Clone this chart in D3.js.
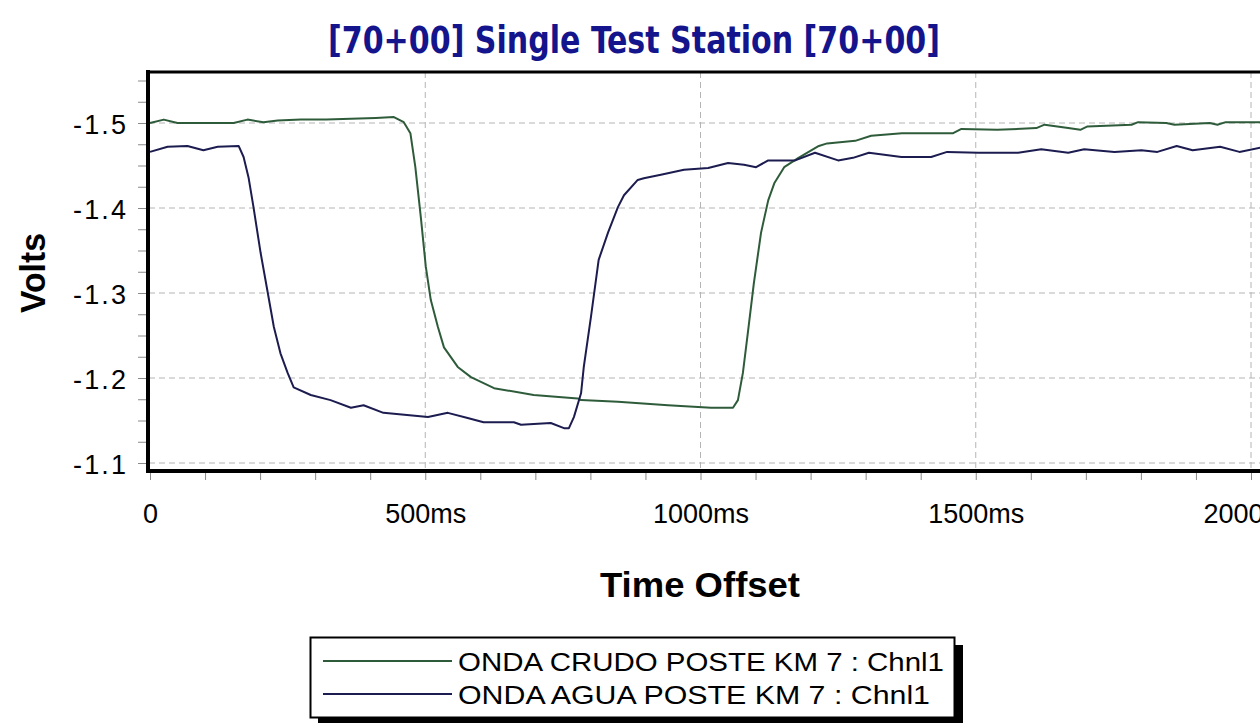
<!DOCTYPE html>
<html>
<head>
<meta charset="utf-8">
<script src="https://cdn.jsdelivr.net/npm/d3@7"></script>
<style>
  html, body { margin: 0; padding: 0; background: #ffffff; overflow: hidden; }
  svg { display: block; font-family: "Liberation Sans", Arial, sans-serif; }
</style>
</head>
<body>
<svg id="chart" width="1260" height="723"></svg>
<script>
// ---------- data ----------
const chartTitle = "[70+00] Single Test Station [70+00]";
const xAxisTitle = "Time Offset";
const yAxisTitle = "Volts";
const seriesNames = ["ONDA CRUDO POSTE KM 7 : Chnl1", "ONDA AGUA POSTE KM 7 : Chnl1"];
const seriesColors = ["#2e5c3a", "#1c1c50"];

const timeCrudo = [0, 25, 50, 100, 152, 177, 206, 232, 274, 320, 365, 410, 443, 461, 473, 482, 492, 501, 510, 523, 534, 559, 583, 625, 697, 777, 783, 850, 941, 1019, 1059, 1068, 1077, 1086, 1097, 1110, 1123, 1134, 1152, 1178, 1215, 1230, 1281, 1310, 1366, 1459, 1474, 1539, 1610, 1625, 1668, 1690, 1703, 1783, 1795, 1846, 1861, 1925, 1939, 1954, 2026];
const voltsCrudo = [-1.500, -1.504, -1.500, -1.500, -1.500, -1.504, -1.501, -1.503, -1.504, -1.504, -1.505, -1.506, -1.507, -1.501, -1.488, -1.448, -1.389, -1.331, -1.292, -1.260, -1.236, -1.213, -1.201, -1.188, -1.180, -1.176, -1.174, -1.172, -1.168, -1.165, -1.165, -1.174, -1.206, -1.253, -1.312, -1.371, -1.409, -1.429, -1.448, -1.459, -1.473, -1.476, -1.479, -1.485, -1.488, -1.488, -1.493, -1.492, -1.494, -1.498, -1.494, -1.492, -1.496, -1.498, -1.501, -1.500, -1.498, -1.500, -1.498, -1.501, -1.501];

const timeAgua = [0, 32, 68, 97, 123, 161, 170, 179, 188, 201, 214, 225, 237, 250, 261, 292, 328, 365, 388, 424, 505, 541, 577, 606, 661, 674, 728, 752, 761, 770, 783, 788, 801, 815, 832, 850, 861, 886, 897, 928, 970, 1014, 1050, 1079, 1101, 1123, 1172, 1208, 1250, 1277, 1306, 1365, 1419, 1448, 1505, 1577, 1619, 1668, 1697, 1752, 1801, 1830, 1865, 1894, 1944, 1979, 2026];
const voltsAgua = [-1.466, -1.472, -1.473, -1.468, -1.472, -1.473, -1.460, -1.436, -1.401, -1.347, -1.300, -1.260, -1.229, -1.206, -1.189, -1.180, -1.174, -1.165, -1.168, -1.159, -1.154, -1.159, -1.153, -1.148, -1.148, -1.145, -1.147, -1.141, -1.141, -1.154, -1.182, -1.213, -1.272, -1.339, -1.371, -1.401, -1.415, -1.433, -1.435, -1.439, -1.445, -1.447, -1.453, -1.451, -1.448, -1.456, -1.456, -1.465, -1.456, -1.459, -1.465, -1.460, -1.460, -1.466, -1.465, -1.465, -1.469, -1.465, -1.469, -1.466, -1.468, -1.466, -1.473, -1.468, -1.472, -1.466, -1.472];

const xTickValues = [0, 500, 1000, 1500, 2000];
const xTickLabels = ["0", "500ms", "1000ms", "1500ms", "2000ms"];
const xMinorStep = 100;
const yTickValues = [-1.5, -1.4, -1.3, -1.2, -1.1];
const yTickLabels = ["-1.5", "-1.4", "-1.3", "-1.2", "-1.1"];
const yMinorStep = 0.025;

// ---------- layout ----------
const svg = d3.select("#chart");
const plot = { left: 149, top: 72, right: 1262, bottom: 471 };

const x = d3.scaleLinear().domain([0, 2000]).range([150, 1251]);
const y = d3.scaleLinear().domain([-1.5, -1.1]).range([123, 463]);

// clip
svg.append("defs").append("clipPath").attr("id", "clip")
  .append("rect").attr("x", plot.left).attr("y", plot.top)
  .attr("width", plot.right - plot.left).attr("height", plot.bottom - plot.top);

// plot background
svg.append("rect").attr("x", plot.left).attr("y", plot.top)
  .attr("width", plot.right - plot.left).attr("height", plot.bottom - plot.top)
  .attr("fill", "#ffffff");

// grid
const grid = svg.append("g").attr("clip-path", "url(#clip)");
grid.selectAll("line.hg").data(yTickValues).join("line")
  .attr("x1", plot.left).attr("x2", plot.right)
  .attr("y1", d => y(d)).attr("y2", d => y(d))
  .attr("stroke", "#b4b4b4").attr("stroke-width", 1).attr("stroke-dasharray", "6,4");
grid.selectAll("line.vg").data(xTickValues.slice(1)).join("line")
  .attr("x1", d => x(d)).attr("x2", d => x(d))
  .attr("y1", plot.top).attr("y2", plot.bottom)
  .attr("stroke", "#b4b4b4").attr("stroke-width", 1).attr("stroke-dasharray", "6,4");

// minor/major tick marks via axes
const xMinor = d3.range(0, 2001, xMinorStep);
const xAxisG = svg.append("g").attr("transform", `translate(0,${plot.bottom})`)
  .call(d3.axisBottom(x).tickValues(xMinor).tickSize(9).tickSizeOuter(0).tickFormat(""));
xAxisG.select(".domain").remove();
xAxisG.selectAll(".tick line").attr("stroke", "#8a8a8a").attr("stroke-width", 1);

const xLabelG = svg.append("g").attr("transform", `translate(0,${plot.bottom})`)
  .call(d3.axisBottom(x).tickValues(xTickValues).tickSize(0)
    .tickFormat((d, i) => xTickLabels[i]));
xLabelG.select(".domain").remove();
xLabelG.selectAll(".tick text")
  .attr("y", 52).attr("dy", 0)
  .attr("font-family", "'Liberation Sans', Arial, sans-serif")
  .attr("font-size", 27).attr("fill", "#000");

const yMinor = d3.range(0, 19).map(i => -1.55 + i * yMinorStep);
const yAxisG = svg.append("g").attr("transform", `translate(${plot.left - 2},0)`)
  .call(d3.axisLeft(y).tickValues(yMinor).tickSize(9).tickSizeOuter(0).tickFormat(""));
yAxisG.select(".domain").remove();
yAxisG.selectAll(".tick line").attr("stroke", "#8a8a8a").attr("stroke-width", 1);

const yLabelG = svg.append("g").attr("transform", `translate(${plot.left - 2},0)`)
  .call(d3.axisLeft(y).tickValues(yTickValues).tickSize(0)
    .tickFormat((d, i) => yTickLabels[i]));
yLabelG.select(".domain").remove();
yLabelG.selectAll(".tick text")
  .attr("x", -21).attr("dy", 10)
  .attr("font-family", "'Liberation Sans', Arial, sans-serif")
  .attr("font-size", 27).attr("fill", "#000")
  .attr("textLength", 53).attr("lengthAdjust", "spacing");

// series lines
const line = d3.line().x(d => x(d[0])).y(d => y(d[1]));
const seriesData = [
  d3.zip(timeCrudo, voltsCrudo),
  d3.zip(timeAgua, voltsAgua)
];
const linesG = svg.append("g").attr("clip-path", "url(#clip)");
linesG.selectAll("path").data(seriesData).join("path")
  .attr("d", line).attr("fill", "none")
  .attr("stroke", (d, i) => seriesColors[i]).attr("stroke-width", 2)
  .attr("stroke-linejoin", "round");

// frame: thick left, top, bottom
svg.append("line").attr("x1", plot.left - 1).attr("x2", plot.left - 1)
  .attr("y1", plot.top - 2).attr("y2", plot.bottom + 2)
  .attr("stroke", "#000").attr("stroke-width", 4);
svg.append("line").attr("x1", plot.left - 3).attr("x2", 1262)
  .attr("y1", plot.top).attr("y2", plot.top)
  .attr("stroke", "#000").attr("stroke-width", 3);
svg.append("line").attr("x1", plot.left - 3).attr("x2", 1262)
  .attr("y1", plot.bottom).attr("y2", plot.bottom)
  .attr("stroke", "#000").attr("stroke-width", 4);

// titles
svg.append("text").attr("x", 634).attr("y", 53).attr("text-anchor", "middle")
  .attr("font-family", "'Liberation Sans Narrow', 'DejaVu Sans Condensed', 'Liberation Sans', Arial, sans-serif")
  .attr("font-weight", "bold").attr("font-size", 37).attr("fill", "#14148c")
  .attr("textLength", 612).attr("lengthAdjust", "spacingAndGlyphs")
  .text(chartTitle);

svg.append("text").attr("x", 700).attr("y", 597).attr("text-anchor", "middle")
  .attr("font-weight", "bold").attr("font-size", 35).attr("fill", "#000")
  .attr("textLength", 200).attr("lengthAdjust", "spacingAndGlyphs")
  .text(xAxisTitle);

svg.append("text").attr("transform", "translate(45,273) rotate(-90)")
  .attr("text-anchor", "middle")
  .attr("font-weight", "bold").attr("font-size", 35).attr("fill", "#000")
  .attr("textLength", 80).attr("lengthAdjust", "spacingAndGlyphs")
  .text(yAxisTitle);

// legend
const lg = svg.append("g");
lg.append("rect").attr("x", 318).attr("y", 645).attr("width", 645).attr("height", 85).attr("fill", "#000");
lg.append("rect").attr("x", 310.5).attr("y", 637.5).attr("width", 644).attr("height", 80)
  .attr("fill", "#fff").attr("stroke", "#000").attr("stroke-width", 2);
const legendRows = [0, 1];
const legendY = d3.scaleOrdinal().domain(legendRows).range([661, 694]);
lg.selectAll("line.leg").data(legendRows).join("line")
  .attr("x1", 323).attr("x2", 452)
  .attr("y1", d => legendY(d)).attr("y2", d => legendY(d))
  .attr("stroke", d => seriesColors[d]).attr("stroke-width", 2);
const legendWidths = [486, 472];
lg.selectAll("text.leg").data(legendRows).join("text")
  .attr("x", 458).attr("y", d => legendY(d) + 10)
  .attr("font-size", 26).attr("fill", "#000")
  .attr("textLength", d => legendWidths[d]).attr("lengthAdjust", "spacingAndGlyphs")
  .text(d => seriesNames[d]);
</script>
</body>
</html>
